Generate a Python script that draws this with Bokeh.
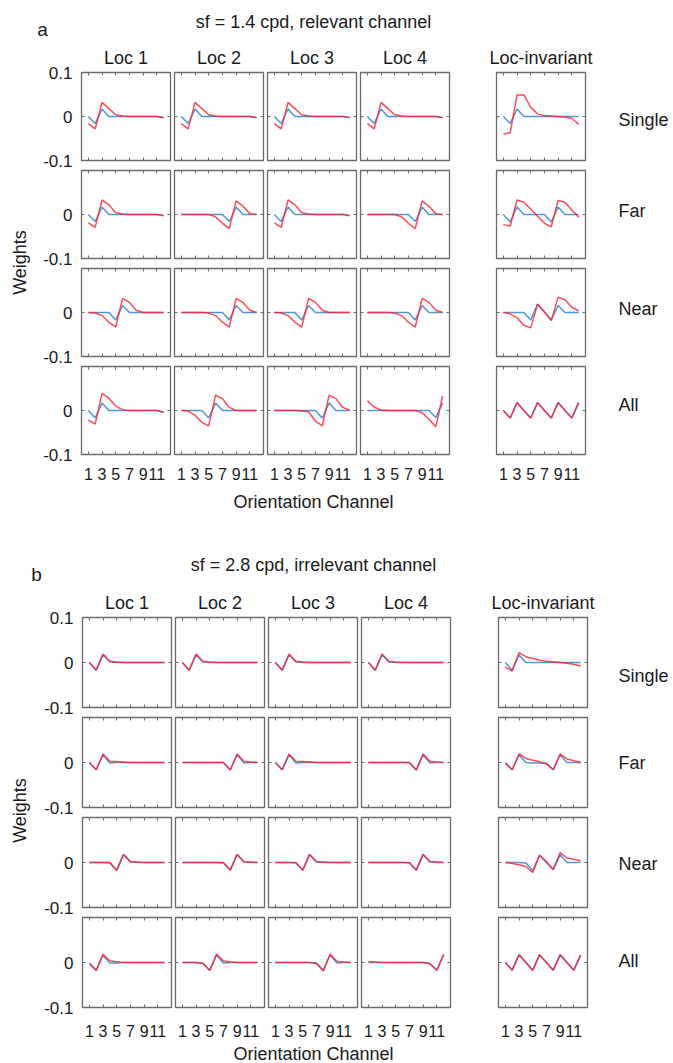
import math
from bokeh.plotting import figure
from bokeh.layouts import column, row
from bokeh.models import Spacer, FixedTicker, LinearAxis, Range1d, CustomJSTickFormatter
from bokeh.core.properties import value
from bokeh.embed import file_html
from bokeh.resources import INLINE

# ---------------- data ----------------
CHANNELS = [1, 2, 3, 4, 5, 6, 7, 8, 9, 10, 11, 12]
X_TICKS = [1, 3, 5, 7, 9, 11]
Y_TICKS = [-0.1, 0, 0.1]
LOCATIONS = ["Loc 1", "Loc 2", "Loc 3", "Loc 4", "Loc-invariant"]
CONDITIONS = ["Single", "Far", "Near", "All"]
PANEL_LETTERS = ["a", "b"]
PANEL_TITLES = ["sf = 1.4 cpd, relevant channel", "sf = 2.8 cpd, irrelevant channel"]
X_LABEL = "Orientation Channel"
Y_LABEL = "Weights"

# panel a (each list: Loc 1, Loc 2, Loc 3, Loc 4, Loc-invariant)
A_SINGLE_BLUE = [
    [0, -0.016, 0.017, 0, 0, 0, 0, 0, 0, 0, 0, -0.002],
    [0, -0.016, 0.017, 0, 0, 0, 0, 0, 0, 0, 0, -0.002],
    [0, -0.016, 0.017, 0, 0, 0, 0, 0, 0, 0, 0, -0.002],
    [0, -0.016, 0.017, 0, 0, 0, 0, 0, 0, 0, 0, -0.002],
    [0, -0.016, 0.017, 0, 0, 0, 0, 0, 0, 0, 0, 0],
]
A_SINGLE_RED = [
    [-0.016, -0.028, 0.032, 0.018, 0.004, 0.001, 0, 0, 0, 0, 0, -0.003],
    [-0.016, -0.028, 0.032, 0.018, 0.004, 0.001, 0, 0, 0, 0, 0, -0.003],
    [-0.016, -0.028, 0.032, 0.018, 0.004, 0.001, 0, 0, 0, 0, 0, -0.003],
    [-0.016, -0.028, 0.032, 0.018, 0.004, 0.001, 0, 0, 0, 0, 0, -0.003],
    [-0.040, -0.037, 0.049, 0.049, 0.021, 0.006, 0.002, 0.001, 0, -0.001, -0.004, -0.018],
]
A_FAR_BLUE = [
    [0, -0.016, 0.017, 0, 0, 0, 0, 0, 0, 0, 0, -0.002],
    [0, 0, 0, 0, 0, 0, 0, -0.016, 0.017, 0, 0, 0],
    [0, -0.016, 0.017, 0, 0, 0, 0, 0, 0, 0, 0, -0.002],
    [0, 0, 0, 0, 0, 0, 0, -0.016, 0.017, 0, 0, 0],
    [0, -0.017, 0.017, 0, 0, 0, 0, -0.017, 0.017, 0, 0, 0],
]
A_FAR_RED = [
    [-0.019, -0.029, 0.033, 0.022, 0.004, 0.001, 0, 0, 0, 0, 0, -0.003],
    [0, 0, 0, 0, 0, -0.005, -0.020, -0.032, 0.031, 0.019, 0.002, 0],
    [-0.019, -0.029, 0.033, 0.022, 0.004, 0.001, 0, 0, 0, 0, 0, -0.003],
    [0, 0, 0, 0, 0, -0.005, -0.020, -0.032, 0.031, 0.019, 0.002, 0],
    [-0.023, -0.026, 0.033, 0.028, 0.012, -0.004, -0.020, -0.028, 0.032, 0.028, 0.010, -0.006],
]
A_NEAR_BLUE = [
    [0, 0, 0, 0, -0.017, 0.016, 0, 0, 0, 0, 0, 0],
    [0, 0, 0, 0, 0, 0, 0, -0.017, 0.016, 0, 0, 0],
    [0, 0, 0, 0, -0.017, 0.016, 0, 0, 0, 0, 0, 0],
    [0, 0, 0, 0, 0, 0, 0, -0.017, 0.016, 0, 0, 0],
    [0, 0, 0, 0, -0.017, 0.019, 0.001, -0.017, 0.016, 0, 0, 0],
]
A_NEAR_RED = [
    [0, -0.001, -0.007, -0.022, -0.033, 0.032, 0.023, 0.005, 0, 0, 0, 0],
    [0, 0, 0, 0, -0.001, -0.007, -0.022, -0.033, 0.032, 0.023, 0.005, 0],
    [0, -0.001, -0.007, -0.022, -0.033, 0.032, 0.023, 0.005, 0, 0, 0, 0],
    [0, 0, 0, 0, -0.001, -0.007, -0.022, -0.033, 0.032, 0.023, 0.005, 0],
    [0, -0.003, -0.012, -0.029, -0.035, 0.019, 0.001, -0.018, 0.035, 0.029, 0.012, 0.004],
]
A_ALL_BLUE = [
    [0, -0.017, 0.017, 0, 0, 0, 0, 0, 0, 0, 0, -0.004],
    [0, 0, 0, 0, -0.017, 0.017, 0, 0, 0, 0, 0, 0],
    [0, 0, 0, 0, 0, 0, 0, -0.017, 0.017, 0, 0, 0],
    [0, 0, 0, 0, 0, 0, 0, 0, 0, 0, -0.016, 0.017],
    [0, -0.017, 0.018, 0, -0.017, 0.018, 0, -0.017, 0.018, 0, -0.017, 0.018],
]
A_ALL_RED = [
    [-0.022, -0.031, 0.039, 0.028, 0.010, 0.002, 0, 0, 0, 0, 0, -0.004],
    [0, -0.001, -0.011, -0.027, -0.035, 0.035, 0.027, 0.007, 0, 0, 0, 0],
    [0, 0, 0, 0, -0.001, -0.003, -0.024, -0.035, 0.035, 0.027, 0.007, 0],
    [0.022, 0.008, 0.001, 0, 0, 0, 0, 0, -0.005, -0.020, -0.037, 0.033],
    [0, -0.017, 0.018, 0, -0.017, 0.018, 0, -0.017, 0.018, 0, -0.017, 0.018],
]

# panel b
B_SINGLE_BLUE = [
    [0, -0.017, 0.017, 0.001, 0, 0, 0, 0, 0, 0, 0, 0],
    [0, -0.017, 0.017, 0.001, 0, 0, 0, 0, 0, 0, 0, 0],
    [0, -0.017, 0.017, 0.001, 0, 0, 0, 0, 0, 0, 0, 0],
    [0, -0.017, 0.017, 0.001, 0, 0, 0, 0, 0, 0, 0, 0],
    [0, -0.017, 0.017, 0, 0, 0, 0, 0, 0, 0, 0, 0],
]
B_SINGLE_RED = [
    [0, -0.017, 0.019, 0.003, 0.001, 0, 0, 0, 0, 0, 0, 0],
    [0, -0.017, 0.019, 0.003, 0.001, 0, 0, 0, 0, 0, 0, 0],
    [0, -0.017, 0.019, 0.003, 0.001, 0, 0, 0, 0, 0, 0, 0],
    [0, -0.017, 0.019, 0.003, 0.001, 0, 0, 0, 0, 0, 0, 0],
    [-0.010, -0.019, 0.022, 0.013, 0.009, 0.005, 0.003, 0.0015, 0, -0.0015, -0.004, -0.008],
]
B_FAR_BLUE = [
    [0, -0.016, 0.017, -0.001, 0, 0, 0, 0, 0, 0, 0, 0],
    [0, 0, 0, 0, 0, 0, 0, -0.016, 0.017, -0.001, 0, 0],
    [0, -0.016, 0.017, -0.001, 0, 0, 0, 0, 0, 0, 0, 0],
    [0, 0, 0, 0, 0, 0, 0, -0.016, 0.017, -0.001, 0, 0],
    [0, -0.016, 0.017, 0, -0.001, -0.001, -0.003, -0.016, 0.017, 0, 0, 0],
]
B_FAR_RED = [
    [0, -0.016, 0.019, 0.003, 0.002, 0.001, 0, 0, 0, 0, 0, 0],
    [0, 0, 0, 0, 0, 0, 0, -0.017, 0.019, 0.003, 0.001, 0],
    [0, -0.016, 0.019, 0.003, 0.002, 0.001, 0, 0, 0, 0, 0, 0],
    [0, 0, 0, 0, 0, 0, 0, -0.017, 0.019, 0.003, 0.001, 0],
    [-0.002, -0.016, 0.019, 0.009, 0.005, 0.0015, -0.002, -0.016, 0.019, 0.008, 0.004, 0],
]
B_NEAR_BLUE = [
    [0, 0, 0, -0.001, -0.017, 0.018, 0.001, 0, 0, 0, 0, 0],
    [0, 0, 0, 0, 0, 0, -0.001, -0.017, 0.018, 0.001, 0, 0],
    [0, 0, 0, -0.001, -0.017, 0.018, 0.001, 0, 0, 0, 0, 0],
    [0, 0, 0, 0, 0, 0, -0.001, -0.017, 0.018, 0.001, 0, 0],
    [0, 0, 0, -0.001, -0.018, 0.016, 0, -0.016, 0.017, 0, 0, 0],
]
B_NEAR_RED = [
    [0, 0, 0, 0, -0.017, 0.018, 0.002, 0.001, 0, 0, 0, 0],
    [0, 0, 0, 0, 0, 0, 0, -0.017, 0.018, 0.002, 0.001, 0],
    [0, 0, 0, 0, -0.017, 0.018, 0.002, 0.001, 0, 0, 0, 0],
    [0, 0, 0, 0, 0, 0, 0, -0.017, 0.018, 0.002, 0.001, 0],
    [0, -0.002, -0.005, -0.009, -0.022, 0.016, 0.002, -0.015, 0.022, 0.010, 0.007, 0.004],
]
B_ALL_BLUE = [
    [-0.002, -0.017, 0.016, -0.001, -0.001, 0, 0, 0, 0, 0, 0, 0],
    [0, 0, 0, -0.001, -0.017, 0.016, -0.001, 0, 0, 0, 0, 0],
    [0, 0, 0, 0, 0, 0, -0.001, -0.017, 0.016, -0.001, 0, 0],
    [0, 0, 0, 0, 0, 0, 0, 0, 0, -0.003, -0.016, 0.016],
    [0, -0.017, 0.017, 0, -0.017, 0.017, 0, -0.017, 0.017, 0, -0.017, 0.017],
]
B_ALL_RED = [
    [-0.002, -0.018, 0.018, 0.004, 0.0015, 0, 0, 0, 0, 0, 0, 0],
    [0, 0, 0, -0.002, -0.018, 0.019, 0.004, 0.001, 0, 0, 0, 0],
    [0, 0, 0, 0, 0, 0, -0.002, -0.019, 0.019, 0.003, 0.001, 0],
    [0.002, 0.001, 0, 0, 0, 0, 0, 0, 0, -0.002, -0.018, 0.019],
    [0, -0.017, 0.017, 0, -0.017, 0.017, 0, -0.017, 0.017, 0, -0.017, 0.017],
]

PANEL_A = [(A_SINGLE_BLUE, A_SINGLE_RED), (A_FAR_BLUE, A_FAR_RED),
           (A_NEAR_BLUE, A_NEAR_RED), (A_ALL_BLUE, A_ALL_RED)]
PANEL_B = [(B_SINGLE_BLUE, B_SINGLE_RED), (B_FAR_BLUE, B_FAR_RED),
           (B_NEAR_BLUE, B_NEAR_RED), (B_ALL_BLUE, B_ALL_RED)]

# ---------------- style ----------------
FONT = "Liberation Sans"
TXT = "#1a1a1a"
BOX = "#6a6a6a"
BLUE = "#4f97d2"
RED = "#ff1f2e"
FRAME = 89
PAGE_W = 673
INV_PAD = 12


def style_axis(ax, show, size="17px", standoff=9):
    ax.axis_line_color = None
    ax.major_tick_in = 3
    ax.major_tick_out = 0
    ax.major_tick_line_color = BOX
    ax.major_tick_line_width = 1
    ax.minor_tick_line_color = None
    ax.major_label_text_font = FONT
    ax.major_label_text_font_size = size
    if show:
        ax.major_label_text_color = TXT
        ax.major_label_standoff = standoff
    else:
        ax.major_label_text_color = None
        ax.major_label_standoff = 0


def cell(blue, red, ml, mr, mt, mb, fh, first_col, first_row, last_row, x_standoff, title):
    p = figure(width=ml + FRAME + mr, height=mt + fh + mb,
               x_range=Range1d(0, 13), y_range=Range1d(-0.1, 0.1),
               toolbar_location=None, output_backend="svg",
               x_axis_location=None, y_axis_location=None)
    p.min_border_left = ml
    p.min_border_right = mr
    p.min_border_top = mt
    p.min_border_bottom = mb
    p.grid.visible = False
    p.outline_line_color = BOX
    p.outline_line_width = 1.3
    p.background_fill_color = "white"
    p.border_fill_color = "white"
    if title:
        p.title.text = title
        p.title.align = "center"
        p.title.text_font = FONT
        p.title.text_font_size = "18px"
        p.title.text_font_style = "normal"
        p.title.text_color = TXT
        p.title.standoff = 10
    for side in ("below", "above"):
        ax = LinearAxis(ticker=FixedTicker(ticks=X_TICKS))
        style_axis(ax, side == "below" and last_row, size="16px", standoff=x_standoff)
        p.add_layout(ax, side)
    for side in ("left", "right"):
        ax = LinearAxis(ticker=FixedTicker(ticks=Y_TICKS))
        show = side == "left" and first_col
        if show:
            if first_row:
                code = "return Math.abs(tick) < 1e-9 ? '0' : tick.toFixed(1)"
            else:
                code = "if (tick > 0.05) { return '' } return Math.abs(tick) < 1e-9 ? '0' : tick.toFixed(1)"
            ax.formatter = CustomJSTickFormatter(code=code)
        style_axis(ax, show, size="17px", standoff=9)
        p.add_layout(ax, side)
    p.line(CHANNELS, blue, line_color=BLUE, line_width=1.5)
    p.line(CHANNELS, red, line_color=RED, line_width=1.5, line_alpha=0.8)
    return p


def text_fig(x0, x1, y0, y1):
    p = figure(width=x1 - x0, height=y1 - y0,
               x_range=Range1d(x0, x1), y_range=Range1d(y1, y0),
               toolbar_location=None, output_backend="svg",
               x_axis_location=None, y_axis_location=None)
    p.min_border = 0
    p.min_border_left = 0
    p.min_border_right = 0
    p.min_border_top = 0
    p.min_border_bottom = 0
    p.grid.visible = False
    p.outline_line_color = None
    p.background_fill_color = "white"
    p.border_fill_color = "white"
    return p


def put(p, x, y, t, size="18px", align="center", angle=0.0):
    p.text(x=[x], y=[y], text=[t], text_font=value(FONT), text_font_size=size,
           text_color=TXT, text_align=align, text_baseline="middle", angle=angle)


def panel(idx, data, geo):
    y_top = geo["y_top"]
    frame_left = geo["frame_left"]
    mts = geo["mt"]
    mbs = geo["mb"]
    fh = geo["fh"]
    w_left = geo["w_left"]

    # header: panel letter and panel title
    head = text_fig(0, PAGE_W, geo["head_y0"], y_top)
    put(head, geo["letter_x"], geo["letter_y"], PANEL_LETTERS[idx], size="19px")
    put(head, 313, geo["title_y"], PANEL_TITLES[idx])

    # grid of small plots
    grid_rows = []
    for r, (blues, reds) in enumerate(data):
        figs = []
        h = mts[r] + fh + mbs[r]
        for j in range(5):
            if j == 0:
                ml, mr = frame_left[0] - w_left, 2
            elif j < 4:
                ml, mr = 2, 2
            else:
                ml, mr = INV_PAD, INV_PAD
            f = cell(blues[j], reds[j], ml, mr, mts[r], mbs[r], fh, j == 0, r == 0, r == 3,
                     geo["x_standoff"], LOCATIONS[j] if r == 0 else None)
            figs.append(f)
            if j == 3:
                gap = (frame_left[4] - INV_PAD) - (frame_left[3] + FRAME + 2)
                figs.append(Spacer(width=gap, height=h))
        grid_rows.append(row(*figs, spacing=0))
    grid = column(*grid_rows, spacing=0)
    y_end = y_top + sum(mts[r] + fh + mbs[r] for r in range(4))

    left = text_fig(0, w_left, y_top, y_end)
    put(left, geo["ylab_x"], geo["ylab_y"], Y_LABEL, angle=math.pi / 2)

    x_lab0 = frame_left[4] + FRAME + INV_PAD
    right = text_fig(x_lab0, PAGE_W, y_top, y_end)
    for r, cond in enumerate(CONDITIONS):
        put(right, 618, geo["cond_y"][r], cond, align="left")

    foot = text_fig(0, PAGE_W, y_end, geo["foot_y1"])
    put(foot, 313, geo["xlab_y"], X_LABEL)

    return [head, row(left, grid, right, spacing=0), foot]


GEO_A = dict(head_y0=0, y_top=40, frame_left=[81, 174, 267, 360, 496], w_left=30,
             fh=88, mt=[32, 1, 1, 1], mb=[9, 9, 9, 34], x_standoff=13,
             letter_x=42, letter_y=29, title_y=21,
             ylab_x=19, ylab_y=262, cond_y=[119, 210, 308, 404],
             foot_y1=512, xlab_y=501)
GEO_B = dict(head_y0=512, y_top=585, frame_left=[82, 175, 268, 361, 498], w_left=31,
             fh=90, mt=[32, 1, 1, 1], mb=[9, 9, 9, 36], x_standoff=17,
             letter_x=36, letter_y=574, title_y=564,
             ylab_x=19, ylab_y=810, cond_y=[675, 762, 863, 960],
             foot_y1=1063, xlab_y=1053)

items = panel(0, PANEL_A, GEO_A) + panel(1, PANEL_B, GEO_B)
page = column(*items, spacing=0)

open("out.html", "w").write(file_html(page, INLINE))
